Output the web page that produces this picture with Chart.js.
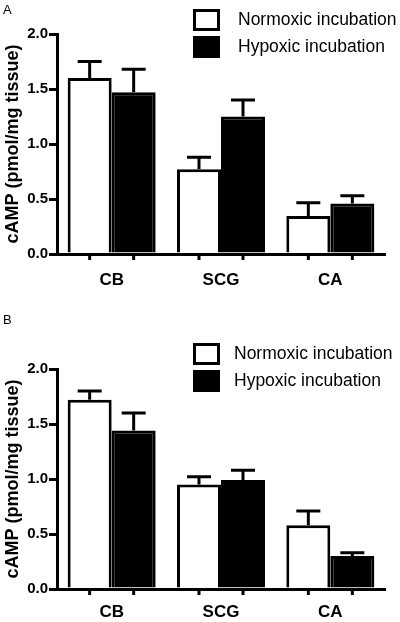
<!DOCTYPE html>
<html>
<head>
<meta charset="utf-8">
<script src="https://cdn.jsdelivr.net/npm/chart.js@4.4.1/dist/chart.umd.min.js"></script>
<style>
  body { margin: 0; background: #fff; }
  .panel { position: absolute; left: 0; width: 400px; }
  .tag { position: absolute; left: 3px; top: 2px; font: 13px "Liberation Sans", Arial, sans-serif; color: #000; }
</style>
</head>
<body>
<div class="panel" style="top:0;height:310px;">
  <canvas id="chartA" width="400" height="310"></canvas>
  <div class="tag">A</div>
</div>
<div class="panel" style="top:310px;height:312px;">
  <canvas id="chartB" width="400" height="312"></canvas>
  <div class="tag">B</div>
</div>
<script>
const categories = ['CB', 'SCG', 'CA'];
const seriesNames = ['Normoxic incubation', 'Hypoxic incubation'];
const yTicks = [0, 0.5, 1.0, 1.5, 2.0];

// panel A
const normoxicA = [1.60, 0.77, 0.345];
const normoxicErrA = [0.15, 0.11, 0.12];
const hypoxicA = [1.47, 1.25, 0.46];
const hypoxicErrA = [0.21, 0.15, 0.07];

// panel B
const normoxicB = [1.72, 0.95, 0.58];
const normoxicErrB = [0.08, 0.07, 0.13];
const hypoxicB = [1.44, 0.99, 0.30];
const hypoxicErrB = [0.16, 0.09, 0.03];

const FONT = '"Liberation Sans", Arial, sans-serif';

// error bars + little ticks under each bar
const errorBars = {
  id: 'errorBars',
  afterDatasetsDraw(chart) {
    const ctx = chart.ctx;
    const y = chart.scales.y;
    ctx.save();
    ctx.strokeStyle = '#000';
    ctx.lineWidth = 3;
    chart.data.datasets.forEach((ds, i) => {
      chart.getDatasetMeta(i).data.forEach((bar, j) => {
        const top = y.getPixelForValue(ds.data[j] + ds.err[j]);
        ctx.beginPath();
        ctx.moveTo(bar.x, bar.y);
        ctx.lineTo(bar.x, top);
        ctx.moveTo(bar.x - 12, top);
        ctx.lineTo(bar.x + 12, top);
        ctx.stroke();
        // tick mark below axis
        const b = chart.chartArea.bottom;
        ctx.beginPath();
        ctx.moveTo(bar.x, b);
        ctx.lineTo(bar.x, b + 6);
        ctx.stroke();
      });
    });
    ctx.restore();
  }
};

const boxLegend = {
  id: 'boxLegend',
  afterDraw(chart, args, opts) {
    const ctx = chart.ctx;
    ctx.save();
    ctx.font = '17.5px ' + FONT;
    ctx.textBaseline = 'middle';
    chart.data.datasets.forEach((ds, i) => {
      const bx = opts.x, by = opts.y + i * opts.step;
      ctx.fillStyle = ds.backgroundColor;
      ctx.fillRect(bx, by, 27, 22);
      ctx.strokeStyle = '#000';
      ctx.lineWidth = 3;
      ctx.strokeRect(bx + 1.5, by + 1.5, 24, 19);
      ctx.fillStyle = '#000';
      ctx.fillText(ds.label, opts.textX, by + 11);
    });
    ctx.restore();
  }
};

function makeChart(id, normoxic, normErr, hypoxic, hypErr, top, bottom, legendY, textX, labelPad) {
  const H = document.getElementById(id).height;
  return new Chart(document.getElementById(id), {
    type: 'bar',
    data: {
      labels: categories,
      datasets: [
        { label: seriesNames[0], data: normoxic, err: normErr, backgroundColor: '#ffffff', borderColor: '#000', borderWidth: 3 },
        { label: seriesNames[1], data: hypoxic, err: hypErr, backgroundColor: '#000000', borderColor: '#000', borderWidth: 3 }
      ]
    },
    options: {
      responsive: false,
      animation: false,
      events: [],
      layout: { padding: { left: 0, right: 15, top: top, bottom: 0 } },
      datasets: { bar: { categoryPercentage: 0.805, barPercentage: 1.0 } },
      plugins: {
        legend: { display: false },
        tooltip: { enabled: false },
        boxLegend: { x: 193, y: legendY, step: 27, textX: textX }
      },
      scales: {
        x: {
          grid: { display: false },
          border: { display: true, color: '#000', width: 3 },
          ticks: { color: '#000', font: { family: FONT, size: 17, weight: 'bold' }, padding: labelPad },
          afterFit: s => { s.height = H - bottom; }
        },
        y: {
          min: 0, max: 2.0,
          afterBuildTicks: s => { s.ticks = yTicks.map(v => ({ value: v })); },
          grid: { drawOnChartArea: false, color: '#000', lineWidth: 3, tickLength: 8 },
          border: { display: true, color: '#000', width: 3 },
          ticks: { color: '#000', padding: 1, font: { family: FONT, size: 15, weight: 'bold' }, callback: v => v.toFixed(1) },
          title: { display: true, text: 'cAMP (pmol/mg tissue)', color: '#000', font: { family: FONT, size: 18, weight: 'bold' }, padding: { top: 2, bottom: 0 } },
          afterFit: s => { s.width = 57; }
        }
      }
    },
    plugins: [errorBars, boxLegend]
  });
}

makeChart('chartA', normoxicA, normoxicErrA, hypoxicA, hypoxicErrA, 34, 254, 9, 238, 8);
makeChart('chartB', normoxicB, normoxicErrB, hypoxicB, hypoxicErrB, 59, 279, 33, 234, 5);
</script>
</body>
</html>
